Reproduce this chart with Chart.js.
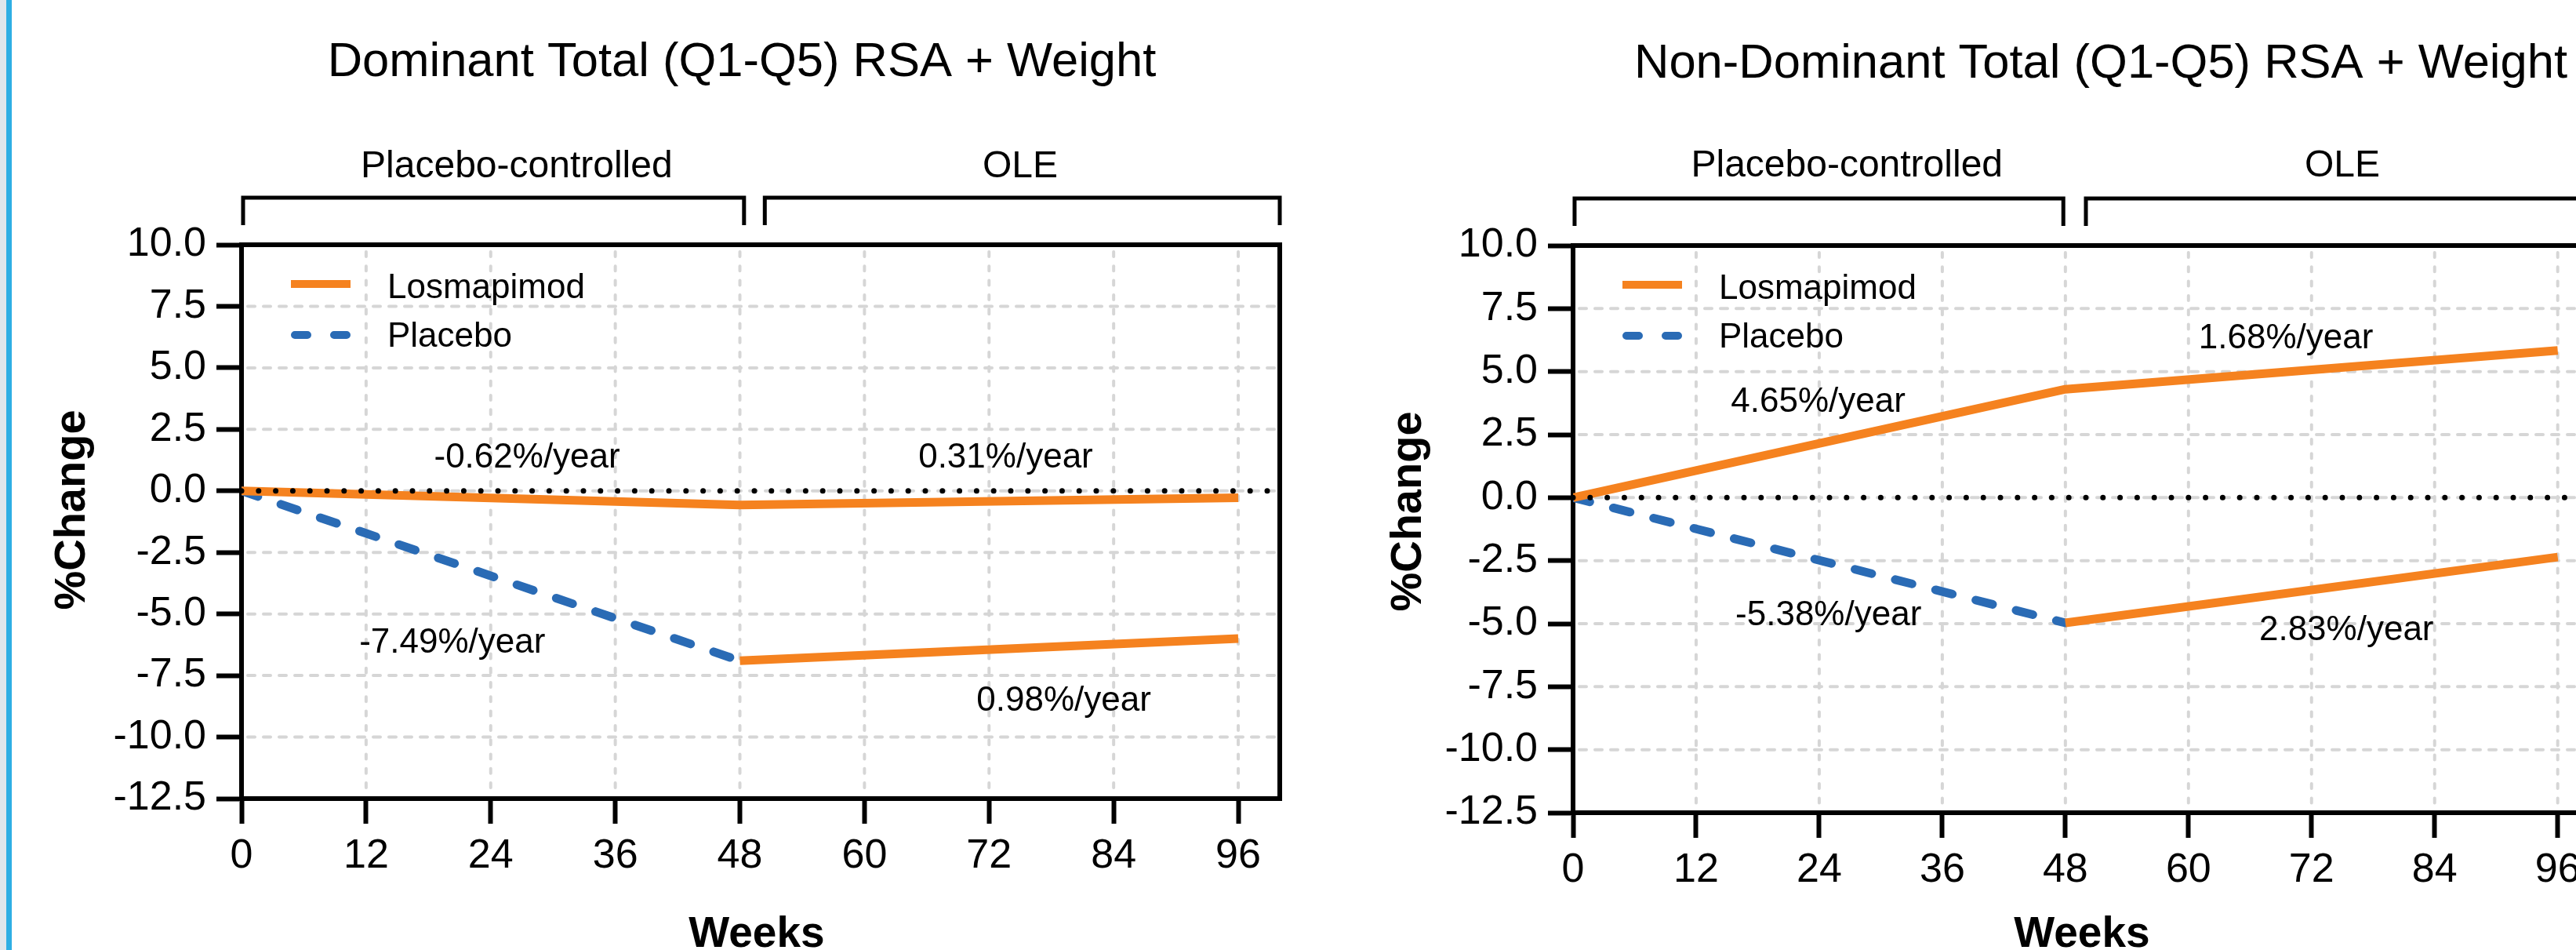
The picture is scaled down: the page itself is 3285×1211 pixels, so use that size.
<!DOCTYPE html>
<html>
<head>
<meta charset="utf-8">
<script src="https://cdn.jsdelivr.net/npm/chart.js@4.4.1/dist/chart.umd.min.js"></script>
<style>
  html, body { margin:0; padding:0; background:#fff; overflow:hidden; }
  body { width:3285px; height:1211px; position:relative; }
  .edge { position:absolute; left:0; top:0; width:8px; height:1211px; background:#dfe6ec; }
  .stripe { position:absolute; left:8px; top:0; width:7px; height:1211px; background:#2eaee4; }
  .panel { position:absolute; top:0; height:1211px; }
  #p1 { left:15px; width:1635px; }
  #p2 { left:1650px; width:1690px; }
</style>
</head>
<body>
<div class="edge"></div><div class="stripe"></div>
<div class="panel" id="p1"><canvas id="c1" width="1635" height="1211"></canvas></div>
<div class="panel" id="p2"><canvas id="c2" width="1690" height="1211"></canvas></div>
<script>
const weeks = [0, 48, 96];
const xTicks = [0, 12, 24, 36, 48, 60, 72, 84, 96];
const yTicks = [-12.5, -10, -7.5, -5, -2.5, 0, 2.5, 5, 7.5, 10];

// Dominant
const domLosmapimod = [0, -0.57, -0.28];
const domPlacebo    = [0, -6.9, null];
const domPlaceboOle = [null, -6.9, -6.0];
const domRates = ['-0.62%/year', '0.31%/year', '-7.49%/year', '0.98%/year'];

// Non-dominant
const ndLosmapimod = [0, 4.3, 5.84];
const ndPlacebo    = [0, -4.97, null];
const ndPlaceboOle = [null, -4.97, -2.36];
const ndRates = ['4.65%/year', '1.68%/year', '-5.38%/year', '2.83%/year'];

const periods = ['Placebo-controlled', 'OLE'];

const FONT = '"Liberation Sans", Arial, Helvetica, sans-serif';
const ORANGE = '#f5821f', BLUE = '#2a6bb5', GRID = '#d6d6d6';

function line(ctx, x1, y1, x2, y2){
  ctx.beginPath(); ctx.moveTo(x1, y1); ctx.lineTo(x2, y2); ctx.stroke();
}

const decor = {
  id: 'decor',
  beforeDatasetsDraw(chart){
    const {ctx, chartArea:a, scales:{x, y}} = chart;
    ctx.save();
    ctx.strokeStyle = GRID; ctx.lineWidth = 4; ctx.lineCap = 'round';
    ctx.setLineDash([9, 11]);
    yTicks.forEach(v => {
      if (v <= y.min || v >= y.max) return;
      const py = y.getPixelForValue(v);
      line(ctx, a.left + 8, py, a.right - 4, py);
    });
    ctx.setLineDash([6, 12.3]);
    xTicks.forEach(v => {
      if (v <= x.min) return;
      const px = x.getPixelForValue(v);
      line(ctx, px, a.top + 9, px, a.bottom - 4);
    });
    ctx.restore();
  },
  afterDatasetsDraw(chart, args, o){
    const {ctx, chartArea:a, scales:{x, y}} = chart;
    ctx.save();
    // zero reference line
    const y0 = y.getPixelForValue(0);
    ctx.strokeStyle = '#000'; ctx.lineWidth = 7; ctx.lineCap = 'round';
    ctx.setLineDash([0, o.zeroGap]);
    line(ctx, a.left, y0, a.right, y0);
    ctx.setLineDash([]);

    // frame top / right
    ctx.lineCap = 'butt'; ctx.lineWidth = 6;
    line(ctx, a.left - 3, a.top, a.right + 3, a.top);
    line(ctx, a.right, a.top, a.right, a.bottom + 3);

    // legend
    const ds = chart.data.datasets;
    ctx.lineWidth = 10;
    ctx.strokeStyle = ds[0].borderColor;
    line(ctx, a.left + 63, a.top + 50, a.left + 139, a.top + 50);
    ctx.strokeStyle = ds[2].borderColor; ctx.lineCap = 'round';
    ctx.setLineDash([16, 34]);
    line(ctx, a.left + 68, a.top + 115, a.left + 134, a.top + 115);
    ctx.setLineDash([]);
    ctx.fillStyle = '#000';
    ctx.font = `44px ${FONT}`;
    ctx.textAlign = 'left'; ctx.textBaseline = 'alphabetic';
    ctx.fillText(ds[0].label, a.left + 186, a.top + 68);
    ctx.fillText(ds[2].label, a.left + 186, a.top + 130);

    // rate annotations
    ctx.font = `44px ${FONT}`;
    ctx.textAlign = 'center'; ctx.textBaseline = 'middle';
    o.rates.forEach((t, i) => {
      const [ax, ay] = o.ratePos[i];
      ctx.fillText(t, x.getPixelForValue(ax), y.getPixelForValue(ay));
    });
    ctx.restore();
  },
  afterDraw(chart, args, o){
    const {ctx, chartArea:a, scales:{x}} = chart;
    ctx.save();
    ctx.fillStyle = '#000'; ctx.strokeStyle = '#000';
    // title
    ctx.font = `61.5px ${FONT}`;
    ctx.textAlign = 'center'; ctx.textBaseline = 'alphabetic';
    ctx.fillText(o.title, o.titleX, o.titleY);

    // brackets
    ctx.lineWidth = 5; ctx.lineCap = 'butt'; ctx.lineJoin = 'miter';
    const by = a.top - 60, byEnd = a.top - 25;
    o.brackets.forEach(([b1, b2]) => {
      const x1 = x.getPixelForValue(b1), x2 = x.getPixelForValue(b2);
      ctx.beginPath();
      ctx.moveTo(x1, byEnd); ctx.lineTo(x1, by); ctx.lineTo(x2, by); ctx.lineTo(x2, byEnd);
      ctx.stroke();
    });
    ctx.font = `48px ${FONT}`;
    periods.forEach((t, i) => ctx.fillText(t, x.getPixelForValue(o.periodX[i]), o.periodY));

    // axis titles
    ctx.font = `bold 55px ${FONT}`;
    ctx.fillText('Weeks', o.xTitleX, 1207);
    ctx.font = `bold 56px ${FONT}`;
    ctx.translate(o.yTitleX, o.yTitleY);
    ctx.rotate(-Math.PI / 2);
    ctx.fillText('%Change', 0, 0);
    ctx.restore();
  }
};

function makeChart(id, cfg){
  const pts = vals => weeks.map((w, i) => ({x: w, y: vals[i]}));
  const ds = (label, vals, color, dash) => ({
    label, data: pts(vals), borderColor: color, backgroundColor: color,
    borderWidth: 11, borderDash: dash, borderCapStyle: dash.length ? 'round' : 'butt',
    borderJoinStyle: 'bevel', pointRadius: 0, pointHoverRadius: 0, fill: false, tension: 0, spanGaps: false
  });
  const axisCommon = {
    type: 'linear',
    grid: { drawOnChartArea: false, drawTicks: true, tickLength: 32, tickWidth: 6, tickColor: '#000', color: '#000' },
    border: { display: true, color: '#000', width: 6 },
  };
  return new Chart(document.getElementById(id), {
    type: 'line',
    data: { datasets: [
      ds('Losmapimod', cfg.los, ORANGE, []),
      ds('Placebo OLE', cfg.ole, ORANGE, []),
      ds('Placebo', cfg.pla, BLUE, [22, 31]),
    ]},
    options: {
      responsive: false, animation: false, devicePixelRatio: 1,
      layout: { padding: cfg.padding },
      plugins: {
        legend: { display: false }, tooltip: { enabled: false }, title: { display: false },
        decor: cfg.decor
      },
      scales: {
        x: { ...axisCommon, min: 0, max: 100,
          afterBuildTicks: s => { s.ticks = xTicks.map(v => ({value: v})); },
          afterFit: s => { s.height = 100; },
          ticks: { color: '#000', font: {family: FONT, size: 52}, padding: 10, maxRotation: 0, autoSkip: false }
        },
        y: { ...axisCommon, min: -12.5, max: 10,
          afterBuildTicks: s => { s.ticks = yTicks.map(v => ({value: v})); },
          afterFit: s => { s.width = 200; },
          ticks: { color: '#000', font: {family: FONT, size: 52}, padding: 13, autoSkip: false,
                   callback: v => Number(v).toFixed(1) }
        }
      }
    },
    plugins: [decor]
  });
}

makeChart('c1', {
  los: domLosmapimod, pla: domPlacebo, ole: domPlaceboOle,
  padding: { left: 93, top: 312, right: 18, bottom: 93 },
  decor: {
    title: 'Dominant Total (Q1-Q5) RSA + Weight', titleX: 931, titleY: 97,
    rates: domRates, ratePos: [[27.5, 1.32], [73.6, 1.32], [20.3, -6.17], [79.2, -8.53]],
    brackets: [[0.15, 48.4], [50.4, 100]], periodX: [26.5, 75.0], periodY: 226,
    xTitleX: 950, yTitleX: 93, yTitleY: 650, zeroGap: 21.8
  }
});

makeChart('c2', {
  los: ndLosmapimod, pla: ndPlacebo, ole: ndPlaceboOle,
  padding: { left: 156, top: 313, right: 26, bottom: 75 },
  decor: {
    title: 'Non-Dominant Total (Q1-Q5) RSA + Weight', titleX: 1029, titleY: 99,
    rates: ndRates, ratePos: [[23.9, 3.77], [69.5, 6.29], [24.9, -4.67], [75.4, -5.28]],
    brackets: [[0.15, 47.8], [50.0, 100]], periodX: [26.7, 75.0], periodY: 225,
    xTitleX: 1005, yTitleX: 162, yTitleY: 652, zeroGap: 21.8
  }
});
</script>
</body>
</html>
